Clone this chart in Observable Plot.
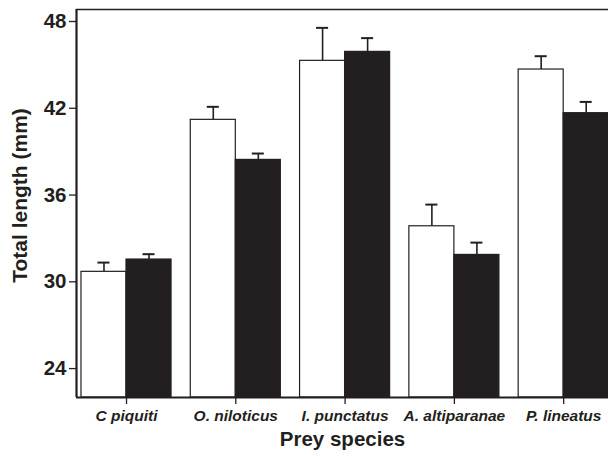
<!DOCTYPE html>
<html>
<head>
<meta charset="utf-8">
<script src="https://cdn.jsdelivr.net/npm/d3@7"></script>
<script src="https://cdn.jsdelivr.net/npm/@observablehq/plot@0.6"></script>
<style>
  html, body { margin: 0; padding: 0; background: #fff; overflow: hidden; }
  svg { display: block; }
</style>
</head>
<body>
<div id="chart"></div>
<script>
const species = ["C piquiti", "O. niloticus", "I. punctatus", "A. altiparanae", "P. lineatus"];
const whiteMean = [30.69, 41.20, 45.28, 33.84, 44.68];
const whiteErr  = [0.64, 0.90, 2.28, 1.50, 0.92];
const blackMean = [31.54, 38.43, 45.90, 31.86, 41.66];
const blackErr  = [0.37, 0.44, 0.95, 0.85, 0.78];
const yTicks = [24, 30, 36, 42, 48];

const yDomain = [22, 48.83];
const xDomain = [-0.4575, 4.41];
const barW = 0.412;   // bar width in group units
const capHalf = 0.055;

const rows = [];
species.forEach((s, i) => {
  rows.push({species: s, i, group: "white", mean: whiteMean[i], err: whiteErr[i], x1: i - barW, x2: i});
  rows.push({species: s, i, group: "black", mean: blackMean[i], err: blackErr[i], x1: i, x2: i + barW});
});
rows.forEach(d => { d.xc = (d.x1 + d.x2) / 2; d.top = d.mean + d.err; });

const ink = "#231f20";
const font = "'Liberation Sans', Arial, Helvetica, sans-serif";

const chart = Plot.plot({
  width: 608,
  height: 456,
  marginLeft: 76,
  marginRight: 0,
  marginTop: 9,
  marginBottom: 59,
  style: {fontFamily: font, color: ink, background: "#fff"},
  x: {type: "linear", domain: xDomain, axis: null},
  y: {domain: yDomain, axis: null},
  marks: [
    Plot.ruleX(rows, {x: "xc", y1: "mean", y2: "top", stroke: ink, strokeWidth: 1.6}),
    Plot.ruleY(rows, {y: "top", x1: d => d.xc - capHalf, x2: d => d.xc + capHalf, stroke: ink, strokeWidth: 2}),
    Plot.rect(rows, {
      x1: "x1", x2: "x2", y1: () => yDomain[0], y2: "mean",
      fill: d => d.group === "white" ? "#fff" : ink,
      stroke: ink, strokeWidth: 1.2
    }),
    Plot.ruleX([xDomain[0]], {stroke: ink, strokeWidth: 2.2}),
    Plot.ruleY([yDomain[0]], {stroke: ink, strokeWidth: 2}),
    Plot.ruleY([yDomain[1]], {stroke: ink, strokeWidth: 1.4}),
    Plot.axisY(yTicks, {
      anchor: "left", tickSize: 7, tickPadding: 3, tickFormat: d => String(d),
      fontSize: 20.5, fontWeight: "bold", stroke: ink, strokeWidth: 1.3, label: null
    }),
    Plot.axisX(d3.range(species.length), {
      anchor: "bottom", tickSize: 7, tickPadding: 5, tickFormat: i => species[i],
      fontSize: 15.5, fontWeight: "bold", fontStyle: "italic", stroke: ink, strokeWidth: 1.3, label: null
    }),
    Plot.text(["Total length (mm)"], {
      frameAnchor: "left", textAnchor: "middle", rotate: -90, dx: -56, dy: -8,
      fontSize: 21, fontWeight: "bold", fill: ink
    }),
    Plot.text(["Prey species"], {
      frameAnchor: "bottom", dy: 48, fontSize: 20.5, fontWeight: "bold", fill: ink
    })
  ]
});
document.getElementById("chart").appendChild(chart);
</script>
</body>
</html>
